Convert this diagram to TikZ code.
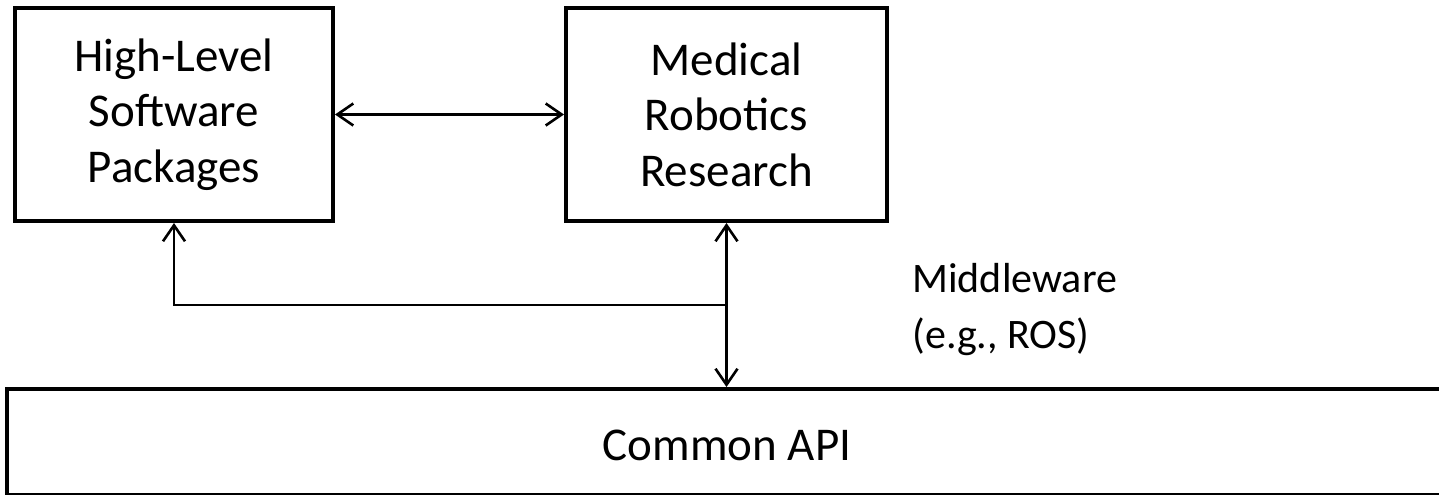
\documentclass[tikz,border=0pt]{standalone}
\usepackage{fontspec}
\setmainfont{Carlito}
\usetikzlibrary{arrows.meta}
\begin{document}
\begin{tikzpicture}[x=0.5pt,y=-0.5pt,
  boxstyle/.style={draw, line width=2pt, inner sep=0pt, align=center,
    font=\fontsize{23.5}{27.75}\selectfont},
  tip/.style={},
  conn/.style={line width=1.3pt, arrows={-Straight Barb[length=8pt,width=11pt,line width=1.3pt]}},
  conn2/.style={line width=1.3pt, arrows={Straight Barb[length=8pt,width=11pt,line width=1.3pt]-Straight Barb[length=8pt,width=11pt,line width=1.3pt]}}]
\useasboundingbox (0,0) rectangle (1439,494);
\node[boxstyle, minimum width=159pt, minimum height=106.5pt] (hl) at (174,114.5)
  {High-Level\\Software\\Packages};
\node[boxstyle, minimum width=160.5pt, minimum height=106.5pt] (mr) at (726.5,114.5)
  {Medical\\Robotics\\Research};
\node[boxstyle, minimum width=727pt, minimum height=53pt] (api) at (734,442) {};
\node[font=\fontsize{23.5}{27.75}\selectfont, anchor=base, inner sep=0pt] (apitext) at (727,460) {Common API};
\node[font=\fontsize{21}{28}\selectfont, align=left, anchor=base west, inner sep=0pt] (mw) at (912,348)
  {Middleware\\(e.g., ROS)};
\coordinate (j) at (726.5,305);
\draw[conn2] (hl.east) -- (mr.west);
\draw[conn2] (mr.south) -- (mr.south |- api.north);
\draw[conn] (j) -| (hl.south);
\end{tikzpicture}
\end{document}
